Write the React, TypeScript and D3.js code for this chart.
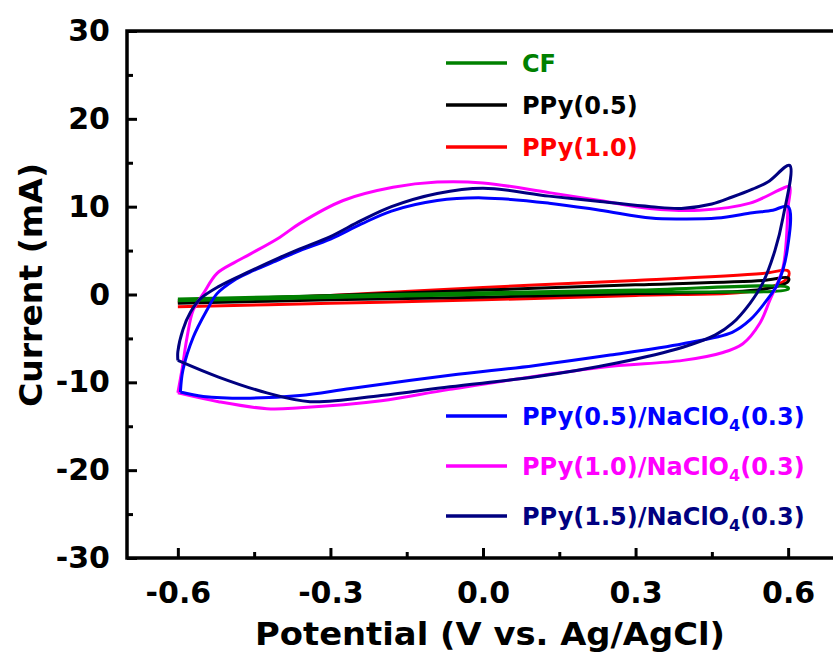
import { useEffect, useRef } from "react";
import * as d3 from "d3";

const W = 833;
const H = 657;
const margin = { top: 31, right: 0, bottom: 99, left: 127 };
const plotRight = 839; // frame continues past the right edge of the picture

const xTicks = [-0.6, -0.3, 0, 0.3, 0.6];
const xMinor = [-0.45, -0.15, 0.15, 0.45];
const yTicks = [-30, -20, -10, 0, 10, 20, 30];
const yMinor = [-25, -15, -5, 5, 15, 25];

const names = [
  "CF",
  "PPy(0.5)",
  "PPy(1.0)",
  "PPy(0.5)/NaClO4(0.3)",
  "PPy(1.0)/NaClO4(0.3)",
  "PPy(1.5)/NaClO4(0.3)",
];
const colors = ["#008000", "#000000", "#ff0000", "#0000ff", "#ff00ff", "#000080"];

// CV loops: potential (V) and current (mA), forward scan then reverse scan
const cfV = [-0.6, -0.3, 0, 0.3, 0.6, 0.6, 0.3, 0, -0.3, -0.6];
const cfI = [-0.5, -0.15, 0.2, 0.5, 0.8, 0.6, 0.3, 0.0, -0.35, -0.7];

const ppy05V = [-0.6, -0.3, 0, 0.3, 0.55, 0.6, 0.6, 0.55, 0.3, 0, -0.3, -0.6];
const ppy05I = [-0.7, -0.1, 0.5, 1.1, 1.6, 1.9, 1.5, 0.6, 0.1, -0.3, -0.6, -1.0];

const ppy10V = [-0.6, -0.3, 0, 0.3, 0.55, 0.6, 0.6, 0.55, 0.3, 0, -0.3, -0.6];
const ppy10I = [-0.9, -0.1, 0.8, 1.6, 2.4, 2.7, 2.0, 0.6, -0.1, -0.6, -1.0, -1.4];

const na05V = [
  -0.595, -0.59, -0.57, -0.543, -0.523, -0.49, -0.46, -0.4, -0.36, -0.3, -0.24, -0.18, -0.09, 0.0,
  0.13, 0.23, 0.33, 0.39, 0.46, 0.53, 0.57, 0.6,
  0.598, 0.58, 0.558, 0.525, 0.49, 0.393, 0.25, 0.1, -0.065, -0.26, -0.36, -0.458, -0.55, -0.595,
];
const na05I = [
  -11.1, -8.6, -4.9, -1.8, 0.1, 1.6, 2.5, 4.0, 5.0, 6.3, 8.0, 9.5, 10.7, 11.0,
  10.4, 9.6, 8.7, 8.6, 8.7, 9.3, 9.6, 10.0,
  5.0, 1.3, -0.65, -2.9, -4.3, -5.6, -6.9, -8.1, -9.2, -10.7, -11.5, -11.8, -11.6, -11.1,
];

const na10V = [
  -0.6, -0.592, -0.582, -0.57, -0.55, -0.523, -0.49, -0.458, -0.4, -0.36, -0.275, -0.177, -0.09, 0.0,
  0.13, 0.23, 0.328, 0.426, 0.525, 0.59, 0.603,
  0.6, 0.59, 0.564, 0.544, 0.511, 0.472, 0.393, 0.23, -0.065, -0.2, -0.36, -0.425, -0.52, -0.6,
];
const na10I = [
  -11.2, -8.6, -4.9, -1.8, 0.1, 2.4, 3.6, 4.6, 6.5, 8.1, 10.7, 12.2, 12.8, 12.7,
  11.6, 10.7, 9.8, 9.6, 10.4, 12.1, 12.3,
  10.0, 3.1, -0.65, -3.3, -5.6, -6.6, -7.5, -8.3, -10.8, -12.1, -12.9, -13.0, -12.2, -11.2,
];

const na15V = [
  -0.6, -0.6, -0.59, -0.575, -0.556, -0.52, -0.46, -0.4, -0.36, -0.3, -0.24, -0.18, -0.09, 0.0,
  0.13, 0.23, 0.33, 0.39, 0.45, 0.49, 0.53, 0.56, 0.603,
  0.59, 0.574, 0.55, 0.525, 0.49, 0.457, 0.393, 0.263, 0.1, -0.065, -0.2, -0.34, -0.425, -0.52, -0.6,
];
const na15I = [
  -7.5, -6.5, -4.0, -2.0, -0.5, 0.9, 2.6, 4.2, 5.2, 6.6, 8.4, 10.0, 11.5, 12.1,
  11.2, 10.6, 10.0, 9.8, 10.3, 11.1, 12.0, 12.8, 14.7,
  8.8, 5.0, 1.3, -1.0, -3.3, -4.6, -6.0, -7.8, -9.4, -10.5, -11.5, -12.2, -11.2, -9.4, -7.5,
];

const seriesV = [cfV, ppy05V, ppy10V, na05V, na10V, na15V];
const seriesI = [cfI, ppy05I, ppy10I, na05I, na10I, na15I];
const drawOrder = [2, 1, 0, 4, 3, 5];

const font = "'DejaVu Sans', sans-serif";

const x = d3.scaleLinear().domain([-0.7, 0.7]).range([margin.left, plotRight]);
const y = d3.scaleLinear().domain([-30, 30]).range([H - margin.bottom - 0, margin.top]);

const line = d3
  .line<[number, number]>()
  .x((d) => x(d[0]))
  .y((d) => y(d[1]))
  .curve(d3.curveCatmullRom.alpha(0.5));

function styleAxis(g: d3.Selection<SVGGElement, unknown, null, undefined>) {
  g.select(".domain").remove();
  g.selectAll(".tick line").attr("stroke", "#000").attr("stroke-width", 3);
  g.selectAll(".tick text")
    .attr("fill", "#000")
    .style("font-family", font)
    .style("font-weight", "bold")
    .style("font-size", "30px");
}

function Axes() {
  const leftRef = useRef<SVGGElement>(null);
  const bottomRef = useRef<SVGGElement>(null);

  useEffect(() => {
    if (leftRef.current) {
      const g = d3.select(leftRef.current);
      g.selectAll("*").remove();
      const major = g.append("g").call(
        d3.axisLeft(y).tickValues(yTicks).tickSize(-10).tickPadding(17).tickFormat((d) => String(d))
      );
      const minor = g.append("g").call(d3.axisLeft(y).tickValues(yMinor).tickSize(-6).tickFormat(() => ""));
      styleAxis(major as any);
      styleAxis(minor as any);
    }
    if (bottomRef.current) {
      const g = d3.select(bottomRef.current);
      g.selectAll("*").remove();
      const major = g.append("g").call(
        d3.axisBottom(x).tickValues(xTicks).tickSize(-10).tickPadding(24).tickFormat((d) => (+d).toFixed(1))
      );
      const minor = g.append("g").call(d3.axisBottom(x).tickValues(xMinor).tickSize(-6).tickFormat(() => ""));
      styleAxis(major as any);
      styleAxis(minor as any);
    }
  }, []);

  return (
    <>
      <g ref={leftRef} transform={`translate(${margin.left},0)`} />
      <g ref={bottomRef} transform={`translate(0,${y(-30)})`} />
    </>
  );
}

function LegendEntry({ i, lx, ly }: { i: number; lx: number; ly: number }) {
  const name = names[i];
  const parts = name.split("NaClO4");
  return (
    <g>
      <line x1={lx} x2={lx + 61} y1={ly} y2={ly} stroke={colors[i]} strokeWidth={3.5} />
      <text
        x={lx + 76}
        y={ly + 8.5}
        fill={colors[i]}
        fontFamily={font}
        fontWeight="bold"
        fontSize={24}
      >
        {parts.length === 1 ? (
          name
        ) : (
          <>
            {parts[0]}NaClO
            <tspan fontSize={16} dy={6}>
              4
            </tspan>
            <tspan dy={-6}>{parts[1]}</tspan>
          </>
        )}
      </text>
    </g>
  );
}

export default function App() {
  const top = y(30);
  const bottom = y(-30);
  return (
    <svg
      width={W}
      height={H}
      style={{ position: "absolute", left: 0, top: 0, background: "#fff" }}
    >
      <rect x={0} y={0} width={W} height={H} fill="#fff" />
      {drawOrder.map((i) => (
        <path
          key={names[i]}
          d={line(seriesV[i].map((v, k) => [v, seriesI[i][k]] as [number, number])) || ""}
          fill="none"
          stroke={colors[i]}
          strokeWidth={3}
          strokeLinejoin="round"
        />
      ))}
      <rect
        x={margin.left}
        y={top}
        width={plotRight - margin.left}
        height={bottom - top}
        fill="none"
        stroke="#000"
        strokeWidth={3.5}
      />
      <Axes />
      <LegendEntry i={0} lx={446} ly={63} />
      <LegendEntry i={1} lx={446} ly={105} />
      <LegendEntry i={2} lx={446} ly={147} />
      <LegendEntry i={3} lx={446} ly={416} />
      <LegendEntry i={4} lx={446} ly={466} />
      <LegendEntry i={5} lx={446} ly={516} />
      <text
        x={490}
        y={645}
        textAnchor="middle"
        fontFamily={font}
        fontWeight="bold"
        fontSize={32}
        textLength={470}
        lengthAdjust="spacingAndGlyphs"
      >
        Potential (V vs. Ag/AgCl)
      </text>
      <text
        transform={`translate(42,${285}) rotate(-90)`}
        textAnchor="middle"
        fontFamily={font}
        fontWeight="bold"
        fontSize={32}
        textLength={244}
        lengthAdjust="spacingAndGlyphs"
      >
        Current (mA)
      </text>
    </svg>
  );
}
